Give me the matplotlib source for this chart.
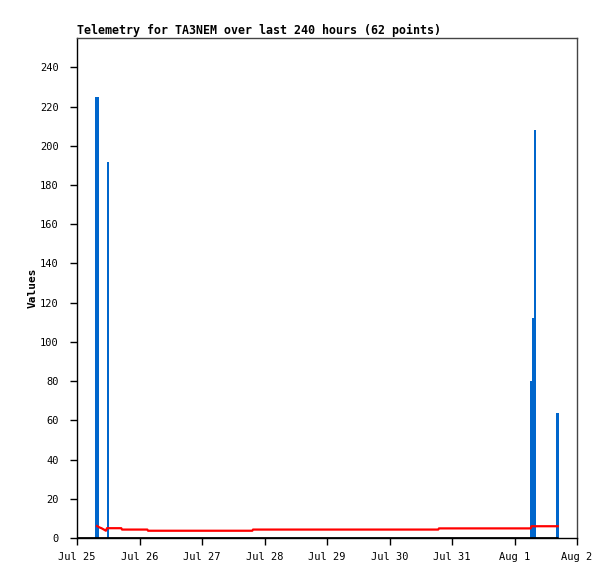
import matplotlib
matplotlib.use('Agg')
import matplotlib.pyplot as plt
import matplotlib.dates as mdates
import pandas as pd

start = pd.Timestamp('2024-07-25 00:00')
end = pd.Timestamp('2024-08-02 00:00')

# blue bar series (hours after start, value)
bar_hours = [7.3, 8.05, 11.9, 174.6, 175.3, 175.9, 184.6]
bar_values = [225, 225, 192, 80, 112, 208, 64]

# red line series
line_hours = [7.7, 8.6, 9.4, 10.2, 11.1, 11.5, 17.0, 17.3, 27.0, 27.3,
              67.3, 67.6, 138.7, 139.0, 174.2, 174.5, 184.6]
line_values = [6.1, 5.4, 5.0, 4.4, 3.7, 5.0, 5.0, 4.3, 4.3, 3.7,
               3.7, 4.3, 4.3, 4.9, 4.9, 6.0, 6.0]

# black zero series
zero_hours = [0, 184.6]
zero_values = [0, 0]

bar_t = [start + pd.Timedelta(hours=h) for h in bar_hours]
line_t = [start + pd.Timedelta(hours=h) for h in line_hours]
zero_t = [start + pd.Timedelta(hours=h) for h in zero_hours]

fig = plt.figure(figsize=(6.15, 5.79), dpi=100)
ax = fig.add_axes([77 / 615, 41 / 579, 500 / 615, 500 / 579])

mono = 'DejaVu Sans Mono'
ax.bar(bar_t, bar_values, width=2.5 / 62.5, color='#0066cc', linewidth=0, zorder=2)
ax.plot(zero_t, zero_values, color='black', lw=2, zorder=3, solid_capstyle='butt')
ax.plot(line_t, line_values, color='#ff0000', lw=1.6, zorder=4)

ax.set_xlim(start, end)
ax.set_ylim(0, 255)
ax.set_yticks(range(0, 241, 20))
ax.xaxis.set_major_locator(mdates.DayLocator())
ax.xaxis.set_major_formatter(mdates.DateFormatter('%b %-d'))

for s in ['top', 'right']:
    ax.spines[s].set_color('#444444')
for s in ['left', 'bottom']:
    ax.spines[s].set_color('black')
for s in ax.spines.values():
    s.set_linewidth(1)

ax.tick_params(direction='out', length=5, width=1, color='black')
ax.tick_params(axis='y', pad=8)
ax.tick_params(axis='x', pad=5)
for lab in ax.get_xticklabels() + ax.get_yticklabels():
    lab.set_fontfamily(mono)
    lab.set_fontsize(7.5)

ax.set_ylabel('Values', fontfamily=mono, fontweight='bold', fontsize=8, labelpad=2)
ax.set_title('Telemetry for TA3NEM over last 240 hours (62 points)', loc='left',
             fontfamily=mono, fontweight='bold', fontsize=8.4, pad=3)

fig.savefig('out.png', dpi=100)
